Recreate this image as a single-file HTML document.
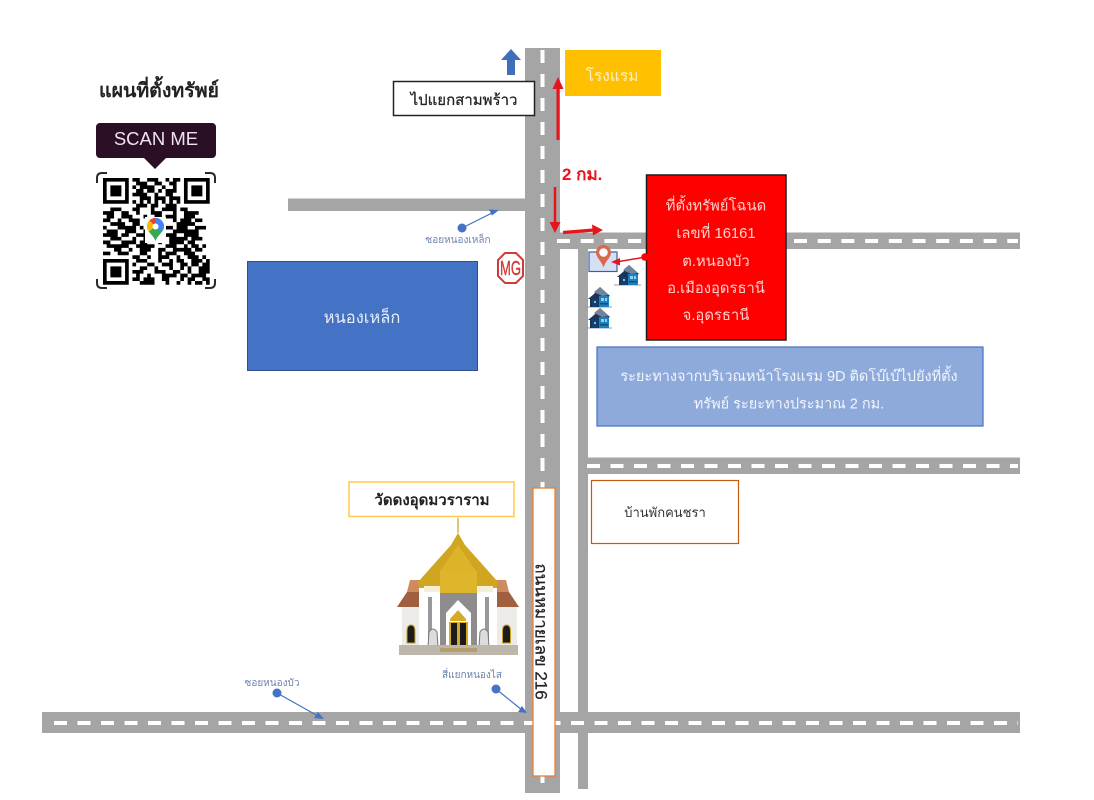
<!DOCTYPE html>
<html lang="th">
<head>
<meta charset="utf-8">
<title>แผนที่ตั้งทรัพย์</title>
<style>
html,body{margin:0;padding:0;background:#fff;width:1094px;height:800px;overflow:hidden}
svg{display:block;filter:blur(.35px)}
text{font-family:"Liberation Sans","Noto Sans CJK SC","WenQuanYi Zen Hei",sans-serif}
</style>
</head>
<body>
<svg width="1094" height="800" viewBox="0 0 1094 800" xmlns="http://www.w3.org/2000/svg">
<defs>
<g id="house">
<path d="M0 20h27" stroke="#8fa0b0" stroke-width="1"/>
<path d="M3 12 9 7 15 0l10 9-2 1v10H5v-8z" fill="#1b3558"/>
<path d="M9 5 15 0l9 8-7 1z" fill="#71849a"/>
<rect x="7" y="12" width="6" height="8" fill="#14406f"/>
<rect x="14" y="9" width="10" height="11" fill="#1b7fc0"/>
<rect x="16" y="11" width="3" height="3" fill="#8fd0ee"/>
<rect x="20" y="11" width="2" height="3" fill="#8fd0ee"/>
<rect x="15" y="16" width="8" height="1.500" fill="#0d4f80"/>
<rect x="9" y="14" width="2" height="2" fill="#7fc0e6"/>
</g>
</defs>

<!-- Roads -->
<rect x="288" y="198.500" width="238" height="12.500" fill="#a5a5a5"/>
<rect x="42" y="712" width="978" height="21" fill="#a5a5a5"/>
<rect x="556" y="232.500" width="464" height="16.500" fill="#a5a5a5"/>
<rect x="585" y="457.500" width="435" height="16.500" fill="#a5a5a5"/>
<rect x="578" y="235" width="10" height="554" fill="#a5a5a5"/>
<rect x="525" y="48" width="35" height="745" fill="#a5a5a5"/>
<line x1="542.500" y1="50" x2="542.500" y2="793" stroke="#fff" stroke-width="4" stroke-dasharray="13 11"/>
<line x1="557" y1="241" x2="1018" y2="241" stroke="#fff" stroke-width="4" stroke-dasharray="13 10.700"/>
<line x1="587" y1="466" x2="1018" y2="466" stroke="#fff" stroke-width="4" stroke-dasharray="13 10.500"/>
<line x1="54" y1="723" x2="1018" y2="723" stroke="#fff" stroke-width="4" stroke-dasharray="13 10.500"/>

<!-- Title -->
<text x="159" y="97" font-size="19.500" font-weight="700" fill="#222" text-anchor="middle">แผนที่ตั้งทรัพย์</text>

<!-- Scan me -->
<rect x="96" y="123" width="120" height="35" rx="4" fill="#2b0f24"/>
<path d="M143 157h24l-12 12z" fill="#2b0f24"/>
<text x="156" y="145" font-size="18.500" fill="#efe3ec" text-anchor="middle">SCAN ME</text>

<!-- QR -->
<g fill="none" stroke="#2a2a2a" stroke-width="2">
<path d="M97 183v-5q0-5 5-5h5"/>
<path d="M205 173h5q5 0 5 5v5"/>
<path d="M97 279v4q0 5 5 5h5"/>
<path d="M205 288h5q5 0 5-5v-4"/>
</g>
<g transform="translate(103,178) scale(3.68)">
<path fill-rule="evenodd" fill="#000" d="M0 0h7v7h-7zM1 1v5h5v-5zM2 2h3v3h-3zM22 0h7v7h-7zM23 1v5h5v-5zM24 2h3v3h-3zM0 22h7v7h-7zM1 23v5h5v-5zM2 24h3v3h-3z"/>
<path fill="none" stroke="#000" stroke-width="1" d="M8 .5h2m2 0h3m2 0h1m1 0h2
M9 1.500h3m2 0h2m2 0h2
M8 2.500h1m1 0h4m2 0h1m2 0h1
M9 3.500h2m1 0h2m1 0h1m1 0h3
M8 4.500h4m2 0h1m2 0h2
M10 5.500h3m1 0h3m1 0h3
M8 6.500h1m1 0h1m1 0h1m1 0h1m1 0h1m1 0h1m1 0h1
M9 7.500h3m1 0h2m2 0h3
M2 8.500h3m3 0h2m3 0h1m2 0h4m1 0h2
M0 9.500h3m2 0h2m2 0h1m3 0h3m3 0h1m2 0h4
M1 10.500h2m2 0h3m3 0h1m2 0h2m1 0h3m2 0h3
M0 11.500h2m2 0h1m2 0h3m2 0h2m5 0h1m1 0h3m1 0h2
M2 12.500h4m2 0h2m6 0h1m3 0h5
M0 13.500h1m3 0h5m1 0h1m6 0h2m1 0h3m2 0h3
M1 14.500h3m2 0h3m2 0h1m7 0h7
M0 15.500h4m1 0h2m2 0h3m5 0h3m2 0h4
M2 16.500h3m3 0h1m2 0h2m5 0h5m1 0h3
M0 17.500h2m3 0h4m1 0h2m3 0h1m2 0h4m1 0h2
M1 18.500h6m2 0h5m3 0h3m2 0h1m1 0h2m1 0h1
M3 19.500h2m2 0h1m2 0h3m2 0h2m2 0h5m1 0h2
M0 20.500h2m2 0h3m3 0h2m3 0h1m1 0h3m2 0h3
M8 21.500h2m2 0h1m2 0h3m2 0h1m2 0h3m1 0h1
M9 22.500h3m3 0h1m2 0h1m1 0h2m2 0h3m1 0h1
M8 23.500h1m3 0h2m2 0h3m2 0h2m1 0h2m1 0h2
M10 24.500h2m2 0h1m3 0h1m2 0h1m1 0h1m2 0h3
M8 25.500h3m3 0h3m2 0h2m2 0h1m2 0h3
M9 26.500h1m2 0h1m3 0h4m1 0h2m1 0h4
M8 27.500h2m1 0h3m2 0h2m3 0h1m1 0h2m2 0h2
M10 28.500h4m3 0h1m2 0h1m2 0h1m1 0h2m1 0h1"/>
</g>
<rect x="145" y="217" width="21" height="26" fill="#fff"/>
<path d="M155.500 218a8.500 8.500 0 0 0-8.500 8.500c0 5.500 6.500 8.500 8.500 14.500 2-6 8.500-9 8.500-14.500a8.500 8.500 0 0 0-8.500-8.500z" fill="#34a853"/>
<path d="M155.500 218a8.500 8.500 0 0 1 8.500 8.500c0 2-1 3.500-2 5l-6.500-5z" fill="#4285f4"/>
<path d="M155.500 218a8.500 8.500 0 0 0-6 2.500l6 6z" fill="#ea4335"/>
<path d="M149.500 220.500a8.500 8.500 0 0 0-2.500 6c0 2 .8 3.500 2 5l6.500-5z" fill="#fbbc04"/>
<circle cx="155.500" cy="226.500" r="3" fill="#fff"/>

<!-- Up arrow -->
<path d="M511 49l-10 11h6v15h8V60h6z" fill="#3f6fba"/>

<!-- Label: to Samphrao -->
<rect x="393.500" y="81.500" width="141" height="34" fill="#fff" stroke="#222" stroke-width="1.500"/>
<text x="464" y="105" font-size="15" fill="#222" stroke="#222" stroke-width=".25" text-anchor="middle">ไปแยกสามพร้าว</text>

<!-- Hotel -->
<rect x="565" y="50" width="96" height="46" fill="#ffc000"/>
<text x="612" y="81" font-size="15.500" fill="#fff0c0" text-anchor="middle">โรงแรม</text>

<!-- Red route arrows -->
<line x1="558" y1="140" x2="558" y2="85" stroke="#e8141c" stroke-width="3"/>
<path d="M558 77l-5.500 12h11z" fill="#e8141c"/>
<line x1="555" y1="187" x2="555" y2="224" stroke="#e8141c" stroke-width="2.500"/>
<path d="M555 233l-5.500-11h11z" fill="#e8141c"/>
<line x1="563" y1="232.500" x2="594" y2="230" stroke="#e8141c" stroke-width="3.200"/>
<path d="M603 230l-11-5.500 1 11z" fill="#e8141c"/>
<text x="562" y="180" font-size="17" font-weight="700" fill="#e8141c">2 กม.</text>

<!-- Branch label -->
<circle cx="462" cy="228" r="4.500" fill="#4472c4"/>
<line x1="462" y1="228" x2="494" y2="212" stroke="#4472c4" stroke-width="1.200"/>
<path d="M499 210l-10-.500 3 6z" fill="#4472c4"/>
<text x="458" y="243" font-size="10" fill="#6d84ab" text-anchor="middle">ซอยหนองเหล็ก</text>

<!-- MG logo -->
<path d="M505 253h11l7 7v16l-7 7h-11l-7-7v-16z" fill="#fff" stroke="#d03a3a" stroke-width="2"/>
<text x="510.500" y="275" font-size="20" fill="#d03a3a" stroke="#d03a3a" stroke-width=".4" text-anchor="middle" textLength="21" lengthAdjust="spacingAndGlyphs">MG</text>

<!-- Blue lake -->
<rect x="247.500" y="261.500" width="230" height="109" fill="#4472c4" stroke="#2f528f" stroke-width="1"/>
<text x="362" y="323" font-size="16.500" fill="#e8eef9" text-anchor="middle">หนองเหล็ก</text>

<!-- Property marker -->
<rect x="589" y="252" width="28" height="19.500" fill="#d6e0f5" stroke="#3f5f9f" stroke-width="1.200"/>
<path d="M603.500 245a7.500 7.500 0 0 0-7.500 7.500c0 5 5 7.500 7.500 15 2.500-7.500 7.500-10 7.500-15a7.500 7.500 0 0 0-7.500-7.500z" fill="#d9694a"/>
<circle cx="603.500" cy="252.500" r="4.300" fill="#fff"/>
<line x1="646" y1="257" x2="619" y2="261.500" stroke="#e8141c" stroke-width="1.500"/>
<path d="M611 262l9-4 0 7.500z" fill="#e8141c"/>
<use href="#house" x="614" y="265"/>
<use href="#house" x="585" y="287"/>
<use href="#house" x="585" y="308"/>

<!-- Red box -->
<rect x="646.500" y="175" width="139.500" height="165" fill="#ff0000" stroke="#1c1c1c" stroke-width="1.500"/>
<circle cx="645" cy="257" r="3.800" fill="#ff0000"/>
<g font-size="14.800" fill="#ffd0cc" text-anchor="middle">
<text x="716" y="210.500">ที่ตั้งทรัพย์โฉนด</text>
<text x="716" y="238">เลขที่ 16161</text>
<text x="716" y="266">ต.หนองบัว</text>
<text x="716" y="293">อ.เมืองอุดรธานี</text>
<text x="716" y="320">จ.อุดรธานี</text>
</g>

<!-- Distance box -->
<rect x="597" y="347" width="386" height="79" fill="#8eaadb" stroke="#4472c4" stroke-width="1.200"/>
<g font-size="14.500" fill="#f2f5fb" text-anchor="middle">
<text x="789" y="381">ระยะทางจากบริเวณหน้าโรงแรม 9D ติดโบ๊เบ๊ไปยังที่ตั้ง</text>
<text x="789" y="408.500">ทรัพย์ ระยะทางประมาณ 2 กม.</text>
</g>

<!-- Nursing home -->
<rect x="591.500" y="480.500" width="147" height="63" fill="#fff" stroke="#c55a11" stroke-width="1.200"/>
<text x="665" y="517" font-size="13" fill="#333" text-anchor="middle">บ้านพักคนชรา</text>

<!-- Temple label -->
<rect x="349" y="482" width="165" height="34.500" fill="#fff" stroke="#ffc94d" stroke-width="1.500"/>
<text x="432" y="505" font-size="15" font-weight="700" fill="#222" text-anchor="middle">วัดดงอุดมวราราม</text>

<!-- Temple -->
<path d="M458 518v15" stroke="#c9a227" stroke-width="1.200"/>
<rect x="402" y="606" width="115" height="40" fill="#ecebe8"/>
<path d="M397 607l10-15h13v15z" fill="#a0603f"/>
<path d="M519 607l-10-15h-13v15z" fill="#a0603f"/>
<path d="M407 592l3-12h14v12z" fill="#cf8a62"/>
<path d="M509 592l-3-12h-14v12z" fill="#cf8a62"/>
<rect x="419" y="588" width="78" height="58" fill="#fff"/>
<rect x="440" y="590" width="37" height="56" fill="#8f8c8d"/>
<rect x="428" y="597" width="4" height="48" fill="#9a989a"/>
<rect x="485" y="597" width="4" height="48" fill="#9a989a"/>
<path d="M458 533l-7 12-33 37 1 6h78l1-6-33-37z" fill="#d0a520"/>
<path d="M458 545l-18 26h36z" fill="#ddb32a"/>
<rect x="440" y="571" width="37" height="22" fill="#dfb52c"/>
<rect x="424" y="586" width="16" height="6" fill="#f5efd8"/>
<rect x="477" y="586" width="16" height="6" fill="#f5efd8"/>
<path d="M446 648v-35l12-13 13 13v35z" fill="#fff"/>
<path d="M450 619l8-9 8 9v2h-16z" fill="#d4aa26"/>
<rect x="449" y="622" width="19" height="26" fill="#d4aa26"/>
<rect x="451" y="623" width="6" height="25" fill="#1c1c1c"/>
<rect x="460" y="623" width="6" height="25" fill="#1c1c1c"/>
<path d="M407 643v-12q0-6 4-6t4 6v12zM502.500 643v-12q0-6 4-6t4 6v12z" fill="#1c1c1c" stroke="#c9a227" stroke-width="1"/>
<path d="M428 647l1-15q4-6 8 0l1 15zM479 647l1-15q4-6 8 0l1 15z" fill="#dedcd8" stroke="#777" stroke-width="1"/>
<rect x="399" y="645" width="119" height="10" fill="#bdb7ab"/>
<rect x="440" y="648" width="37" height="4" fill="#b39f6a"/>

<!-- Junction labels -->
<text x="472" y="678" font-size="10" fill="#6d84ab" text-anchor="middle">สี่แยกหนองไส</text>
<circle cx="496" cy="689" r="4.500" fill="#4472c4"/>
<line x1="496" y1="689" x2="522" y2="710" stroke="#4472c4" stroke-width="1.200"/>
<path d="M527 713l-9-1 4-6z" fill="#4472c4"/>
<text x="272" y="686" font-size="10" fill="#6d84ab" text-anchor="middle">ซอยหนองบัว</text>
<circle cx="277" cy="693" r="4.500" fill="#4472c4"/>
<line x1="277" y1="693" x2="318" y2="716" stroke="#4472c4" stroke-width="1.200"/>
<path d="M324 719l-10-1 4-6z" fill="#4472c4"/>

<!-- Road name box -->
<rect x="533" y="488" width="22" height="288" fill="#fff" stroke="#ed7d31" stroke-width="1.300"/>
<text transform="translate(535.500,631.500) rotate(90)" font-size="17" fill="#222" stroke="#222" stroke-width=".25" text-anchor="middle">ถนนหมายเลข 216</text>
</svg>
</body>
</html>
